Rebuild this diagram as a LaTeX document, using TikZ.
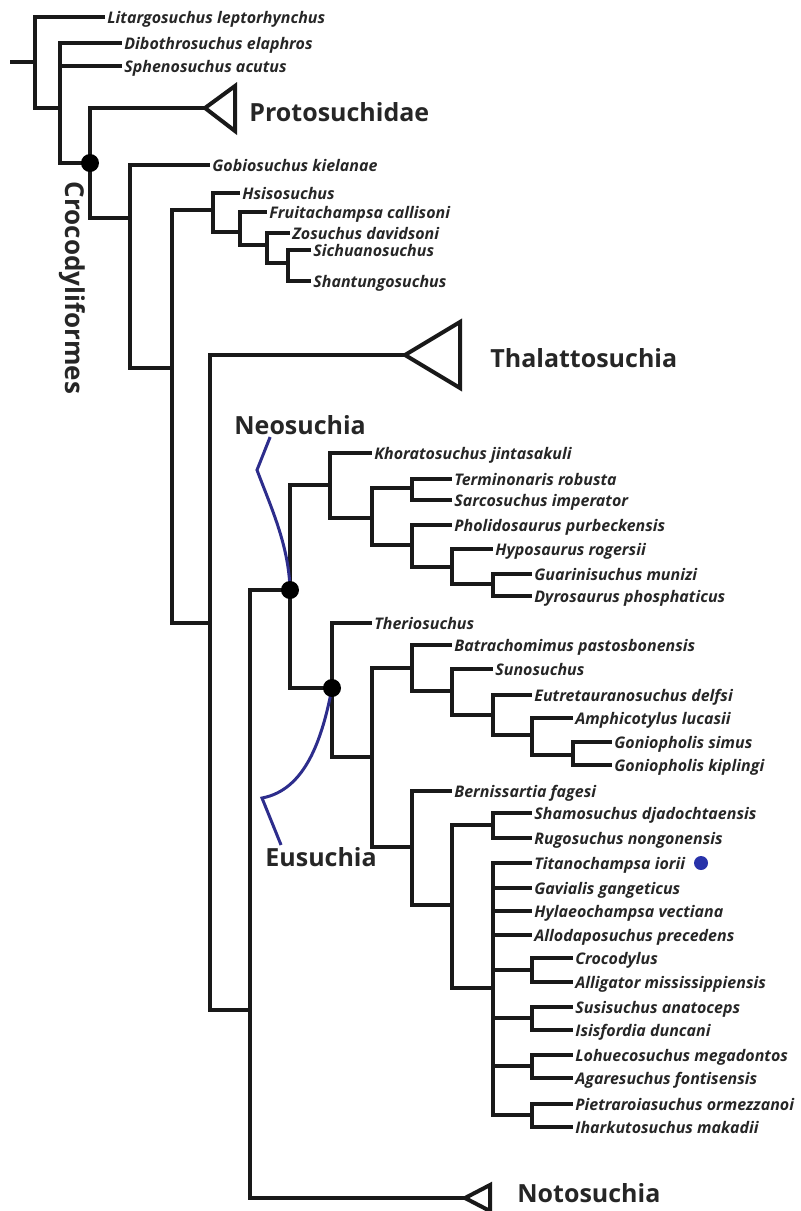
\documentclass[tikz,border=0pt]{standalone}
\usepackage{fontspec}
\setmainfont{Open Sans}
\usepackage{tikz}
\usetikzlibrary{arrows.meta, positioning}
\usepackage{xcolor}
\definecolor{cladeblue}{RGB}{45,45,140}
\definecolor{markblue}{RGB}{40,50,170}

\begin{document}
\begin{tikzpicture}[
    x=0.5pt, y=-0.5pt,
    branch/.style={line width=2pt, color=black!90},
    bracket/.style={line width=1.5pt, color=cladeblue},
    taxon/.style={anchor=west, inner sep=1pt, text height=1.5ex, text depth=0.35ex,
        font=\fontsize{8}{9}\selectfont\bfseries\itshape, text=black!85},
    clade/.style={anchor=west, inner sep=1pt,
        font=\fontsize{12.5}{14}\selectfont\bfseries, text=black!85},
    dot/.style={circle, fill=black, inner sep=0pt, minimum size=9pt},
    bluedot/.style={circle, fill=markblue, inner sep=0pt, minimum size=7pt}]
    \useasboundingbox (0,0) rectangle (801,1211);

    % basal part
    \coordinate (stub) at (10,62);
    \coordinate (n0) at (35,62);
    \node[taxon] (litargo) at (105,17) {Litargosuchus leptorhynchus};
    \coordinate (n1) at (60,108);
    \node[taxon] (dibo) at (122,43) {Dibothrosuchus elaphros};
    \node[taxon] (spheno) at (122,66) {Sphenosuchus acutus};
    \coordinate (crocnode) at (90,163);
    \coordinate (protoTip) at (205,108);
    \node[clade] (proto) at (247,112) {Protosuchidae};
    \node[clade, anchor=center, rotate=-90, font=\fontsize{13}{14}\selectfont\bfseries]
        (croclab) at (72,288) {Crocodyliformes};
    \coordinate (n2) at (130,218);
    \node[taxon] (gobio) at (210,165) {Gobiosuchus kielanae};
    \coordinate (n3) at (172,368);
    \coordinate (n4) at (213,210);
    \node[taxon] (hsiso) at (240,193) {Hsisosuchus};
    \coordinate (n5) at (240,232);
    \node[taxon] (fruita) at (267,212) {Fruitachampsa callisoni};
    \coordinate (n6) at (267,245);
    \node[taxon] (zosu) at (290,233) {Zosuchus davidsoni};
    \coordinate (n7) at (288,263);
    \node[taxon] (sichuan) at (311,250) {Sichuanosuchus};
    \node[taxon] (shantung) at (311,281) {Shantungosuchus};
    \coordinate (n8) at (210,623);
    \coordinate (thalTip) at (405,355);
    \node[clade] (thal) at (488,358) {Thalattosuchia};
    \coordinate (n9) at (250,1010);
    \coordinate (neonode) at (290,590);
    \coordinate (notoTip) at (465,1198);
    \node[clade] (noto) at (515,1193) {Notosuchia};

    % Neosuchia
    \coordinate (n10) at (330,485);
    \node[taxon] (khorat) at (372,453) {Khoratosuchus jintasakuli};
    \coordinate (n11) at (372,518);
    \coordinate (n12) at (412,488);
    \node[taxon] (termino) at (452,479) {Terminonaris robusta};
    \node[taxon] (sarco) at (452,500) {Sarcosuchus imperator};
    \coordinate (n13) at (412,545);
    \node[taxon] (pholi) at (452,525) {Pholidosaurus purbeckensis};
    \coordinate (n14) at (452,567);
    \node[taxon] (hypo) at (493,549) {Hyposaurus rogersii};
    \coordinate (n15) at (493,584);
    \node[taxon] (guarini) at (532,574) {Guarinisuchus munizi};
    \node[taxon] (dyro) at (532,596) {Dyrosaurus phosphaticus};
    \coordinate (eunode) at (332,688);
    \node[taxon] (therio) at (372,623) {Theriosuchus};
    \coordinate (n16) at (372,757);
    \coordinate (n17) at (412,668);
    \node[taxon] (batracho) at (452,645) {Batrachomimus pastosbonensis};
    \coordinate (n18) at (452,691);
    \node[taxon] (suno) at (493,669) {Sunosuchus};
    \coordinate (n19) at (493,715);
    \node[taxon] (eutret) at (532,695) {Eutretauranosuchus delfsi};
    \coordinate (n20) at (532,735);
    \node[taxon] (amphi) at (573,718) {Amphicotylus lucasii};
    \coordinate (n21) at (573,755);
    \node[taxon] (gsimus) at (612,742) {Goniopholis simus};
    \node[taxon] (gkipl) at (612,765) {Goniopholis kiplingi};

    % Eusuchia
    \coordinate (n22) at (412,847);
    \node[taxon] (berni) at (452,791) {Bernissartia fagesi};
    \coordinate (n23) at (452,905);
    \coordinate (n24) at (493,825);
    \node[taxon] (shamo) at (532,813) {Shamosuchus djadochtaensis};
    \node[taxon] (rugo) at (532,838) {Rugosuchus nongonensis};
    \coordinate (n25) at (493,988);
    \node[taxon] (titano) at (532,863) {Titanochampsa iorii};
    \node[bluedot] (titanodot) [right=3pt of titano] {};
    \node[taxon] (gavialis) at (532,888) {Gavialis gangeticus};
    \node[taxon] (hylaeo) at (532,911) {Hylaeochampsa vectiana};
    \node[taxon] (allodapo) at (532,935) {Allodaposuchus precedens};
    \coordinate (n26) at (532,970);
    \node[taxon] (crocodylus) at (573,958) {Crocodylus};
    \node[taxon] (alligator) at (573,982) {Alligator mississippiensis};
    \coordinate (n27) at (532,1018);
    \node[taxon] (susi) at (573,1007) {Susisuchus anatoceps};
    \node[taxon] (isis) at (573,1030) {Isisfordia duncani};
    \coordinate (n28) at (532,1066);
    \node[taxon] (lohueco) at (573,1055) {Lohuecosuchus megadontos};
    \node[taxon] (agare) at (573,1078) {Agaresuchus fontisensis};
    \coordinate (n29) at (532,1115);
    \node[taxon] (pietra) at (573,1104) {Pietraroiasuchus ormezzanoi};
    \node[taxon] (ihark) at (573,1127) {Iharkutosuchus makadii};

    \node[clade] (neolab) at (232,425) {Neosuchia};
    \node[clade] (eulab) at (263,857) {Eusuchia};
    \coordinate (neokink) at (257,470);
    \coordinate (eukink) at (262,798);

    % branches
    \draw[branch] (stub) -- (n0);
    \draw[branch] (n0) |- (litargo) (n0) |- (n1);
    \draw[branch] (n1) |- (dibo) (n1) |- (spheno) (n1) |- (crocnode);
    \draw[branch] (crocnode) |- (protoTip) (crocnode) |- (n2);
    \draw[branch] (protoTip) -- ++(30,-22) -- ++(0,45) -- cycle;
    \draw[branch] (n2) |- (gobio) (n2) |- (n3);
    \draw[branch] (n3) |- (n4) (n3) |- (n8);
    \draw[branch] (n4) |- (hsiso) (n4) |- (n5);
    \draw[branch] (n5) |- (fruita) (n5) |- (n6);
    \draw[branch] (n6) |- (zosu) (n6) |- (n7);
    \draw[branch] (n7) |- (sichuan) (n7) |- (shantung);
    \draw[branch] (n8) |- (thalTip) (n8) |- (n9);
    \draw[branch] (thalTip) -- ++(55,-33) -- ++(0,66) -- cycle;
    \draw[branch] (n9) |- (neonode) (n9) |- (notoTip);
    \draw[branch] (notoTip) -- ++(25,-13) -- ++(0,26) -- cycle;
    \draw[branch] (neonode) |- (n10) (neonode) |- (eunode);
    \draw[branch] (n10) |- (khorat) (n10) |- (n11);
    \draw[branch] (n11) |- (n12) (n11) |- (n13);
    \draw[branch] (n12) |- (termino) (n12) |- (sarco);
    \draw[branch] (n13) |- (pholi) (n13) |- (n14);
    \draw[branch] (n14) |- (hypo) (n14) |- (n15);
    \draw[branch] (n15) |- (guarini) (n15) |- (dyro);
    \draw[branch] (eunode) |- (therio) (eunode) |- (n16);
    \draw[branch] (n16) |- (n17) (n16) |- (n22);
    \draw[branch] (n17) |- (batracho) (n17) |- (n18);
    \draw[branch] (n18) |- (suno) (n18) |- (n19);
    \draw[branch] (n19) |- (eutret) (n19) |- (n20);
    \draw[branch] (n20) |- (amphi) (n20) |- (n21);
    \draw[branch] (n21) |- (gsimus) (n21) |- (gkipl);
    \draw[branch] (n22) |- (berni) (n22) |- (n23);
    \draw[branch] (n23) |- (n24) (n23) |- (n25);
    \draw[branch] (n24) |- (shamo) (n24) |- (rugo);
    \draw[branch] (n25) |- (titano) (n25) |- (gavialis) (n25) |- (hylaeo)
        (n25) |- (allodapo) (n25) |- (n26) (n25) |- (n27) (n25) |- (n28) (n25) |- (n29);
    \draw[branch] (n26) |- (crocodylus) (n26) |- (alligator);
    \draw[branch] (n27) |- (susi) (n27) |- (isis);
    \draw[branch] (n28) |- (lohueco) (n28) |- (agare);
    \draw[branch] (n29) |- (pietra) (n29) |- (ihark);

    % clade brackets
    \draw[bracket] ([xshift=-15pt]neolab.south) -- (neokink)
        .. controls (270,505) and (289,545) .. (neonode);
    \draw[bracket] (eunode) .. controls (322,740) and (305,790) .. (eukink)
        -- ([xshift=-20pt]eulab.north);
    \node[dot] (crocdot) at (crocnode) {};
    \node[dot] (neodot) at (neonode) {};
    \node[dot] (eudot) at (eunode) {};

\end{tikzpicture}
\end{document}
